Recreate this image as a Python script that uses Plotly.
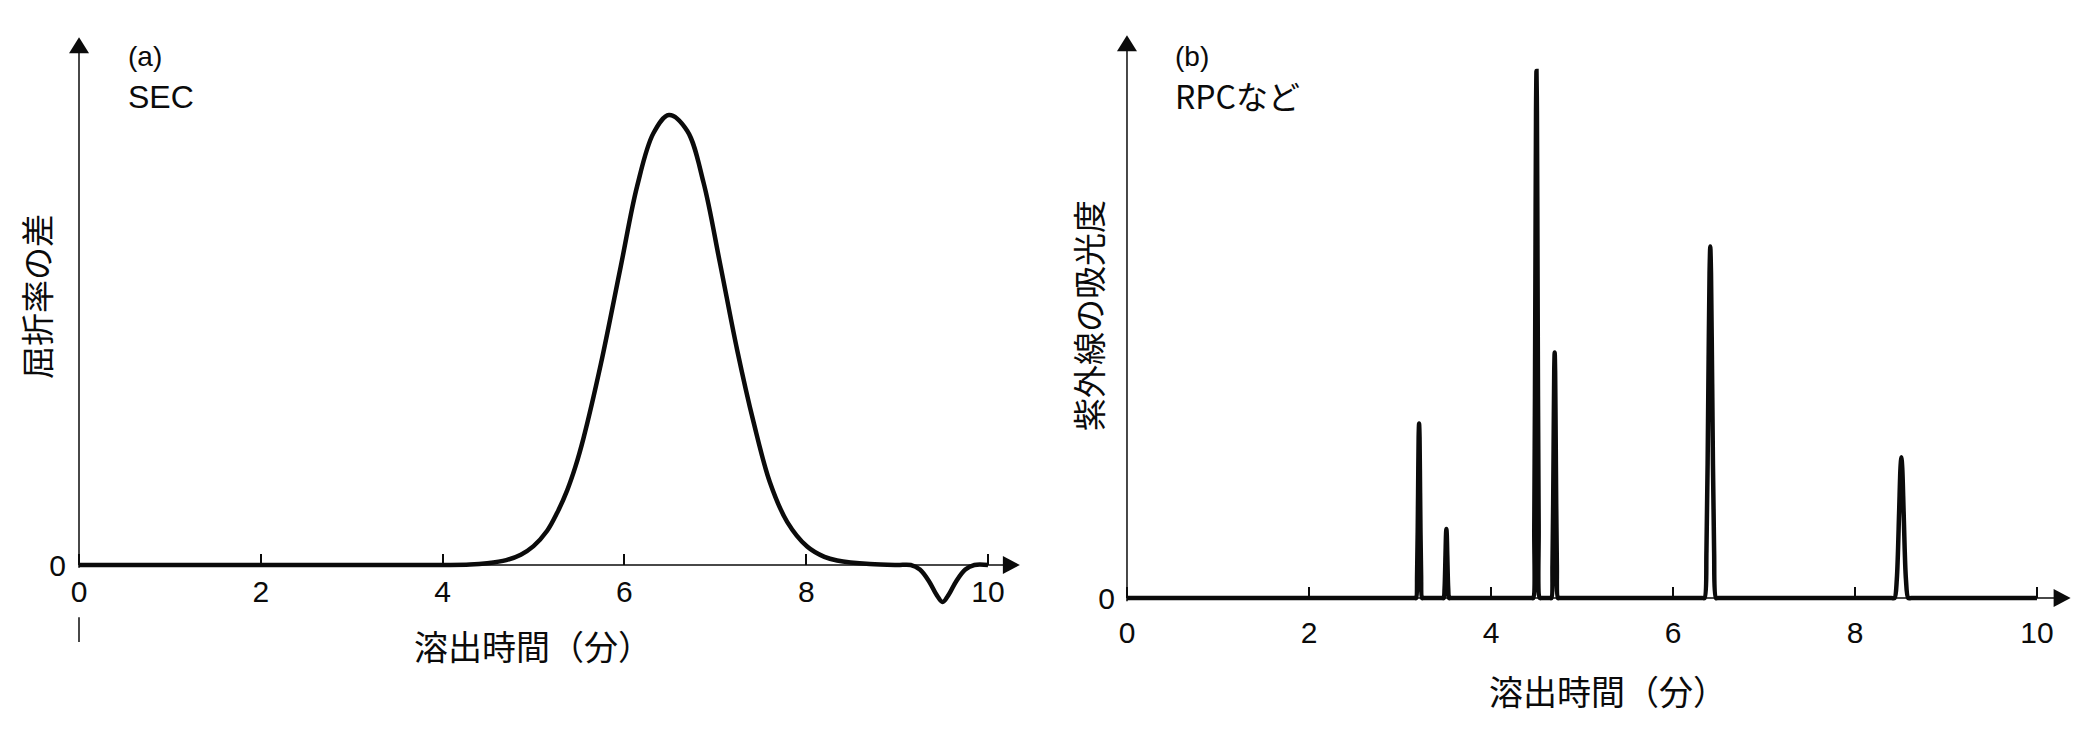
import plotly.graph_objects as go

# (a) SEC: refractive-index difference vs elution time (peak height = 100)
sec_time = [0.0, 4.0, 4.3, 4.49, 4.7, 4.86, 5.0, 5.15, 5.26, 5.37, 5.46, 5.55, 5.74, 5.96, 6.14, 6.32, 6.49,
            6.69, 6.87, 7.05, 7.24, 7.42, 7.60, 7.79, 8.01, 8.2, 8.34, 8.7, 9.0,
            9.15, 9.25, 9.35, 9.43, 9.50, 9.57, 9.65, 9.75, 9.85, 10.0]
sec_signal = [0, 0, 0.1, 0.4, 1.1, 2.3, 4.2, 7.6, 11.6, 16.6, 21.8, 28.2, 44.6, 66.4, 84.2, 96.0, 100,
              96.5, 85.0, 67.2, 47.8, 31.8, 18.4, 9.6, 4.1, 1.8, 1.0, 0.2, 0,
              0, -1.0, -3.6, -6.5, -8.2, -6.5, -3.6, -1.0, 0, 0]

# (b) RPC etc.: UV absorbance vs elution time (tallest peak = 100)
rpc_time = [0.0,
            3.16, 3.177, 3.188, 3.199, 3.205, 3.21, 3.215, 3.221, 3.232, 3.243, 3.26,
            3.46, 3.48, 3.49, 3.50, 3.506, 3.51, 3.514, 3.52, 3.53, 3.54, 3.56,
            4.445, 4.464, 4.476, 4.488, 4.495, 4.50, 4.505, 4.512, 4.524, 4.536, 4.555,
            4.645, 4.664, 4.676, 4.688, 4.695, 4.70, 4.705, 4.712, 4.724, 4.736, 4.755,
            6.32, 6.347, 6.368, 6.389, 6.402, 6.41, 6.418, 6.431, 6.452, 6.473, 6.50,
            8.40, 8.435, 8.46, 8.485, 8.50, 8.51, 8.52, 8.535, 8.56, 8.585, 8.62,
            10.0]
rpc_signal = [0,
              0, 0, 4.5, 20.0, 30.5, 33.1, 30.5, 20.0, 4.5, 0, 0,
              0, 0, 1.8, 8.0, 12.1, 13.1, 12.1, 8.0, 1.8, 0, 0,
              0, 0, 13.5, 60.7, 92.3, 100, 92.3, 60.7, 13.5, 0, 0,
              0, 0, 6.3, 28.3, 43.0, 46.6, 43.0, 28.3, 6.3, 0, 0,
              0, 0, 9.0, 40.5, 61.6, 66.7, 61.6, 40.5, 9.0, 0, 0,
              0, 0, 3.6, 16.2, 24.6, 26.7, 24.6, 16.2, 3.6, 0, 0,
              0]

time_ticks = [0, 2, 4, 6, 8, 10]
x_title = "溶出時間（分）"
a_label, a_method, a_ytitle = "(a)", "SEC", "屈折率の差"
b_label, b_method, b_ytitle = "(b)", "RPCなど", "紫外線の吸光度"

W, H = 2079, 740
LAT = "Liberation Sans, Arial, Noto Sans CJK JP, sans-serif"
JP = "Noto Sans CJK JP, Liberation Sans, sans-serif"
INK = "#0b0b0b"

fig = go.Figure()
fig.add_trace(go.Scatter(x=sec_time, y=sec_signal, xaxis="x", yaxis="y", mode="lines",
                         line=dict(color=INK, width=4.5, shape="spline", smoothing=1.0),
                         hoverinfo="skip"))
fig.add_trace(go.Scatter(x=rpc_time, y=rpc_signal, xaxis="x2", yaxis="y2", mode="lines",
                         line=dict(color=INK, width=4.5, shape="spline", smoothing=0.8),
                         hoverinfo="skip"))

xcommon = dict(tickvals=time_ticks, ticks="inside", ticklen=11, tickwidth=1.5, tickcolor=INK,
               showline=False, showgrid=False, zeroline=False, anchor="free",
               tickfont=dict(family=LAT, size=30, color=INK), fixedrange=True)
ycommon = dict(tickvals=[0], ticks="", showline=False, showgrid=False, zeroline=False,
               anchor="free", tickfont=dict(family=LAT, size=30, color=INK), fixedrange=True)

fig.update_layout(
    width=W, height=H, margin=dict(l=0, r=0, t=0, b=0),
    paper_bgcolor="white", plot_bgcolor="white", showlegend=False,
    xaxis=dict(domain=[0, 0.5], range=[-0.869, 10.566], position=(H - 565) / H,
               ticklabelstandoff=6, **xcommon),
    yaxis=dict(domain=[0, 1], range=[-38.89, 125.56], position=79 / W,
               ticklabelstandoff=13, **ycommon),
    xaxis2=dict(domain=[0.5, 1], range=[-0.9615, 10.462], position=(H - 598) / H,
                ticklabelstandoff=14, **xcommon),
    yaxis2=dict(domain=[0, 1], range=[-26.94, 113.47], position=1127 / W,
                ticklabelstandoff=12, **ycommon),
)

shapes = []
def axis_arrows(xr, yr, x_tip, y_tip, extra=None):
    ln = dict(color=INK, width=1.5)
    shapes.append(dict(type="line", xref=xr, yref=yr, x0=0, x1=x_tip - 0.1, y0=0, y1=0, line=ln))
    shapes.append(dict(type="line", xref=xr, yref=yr, x0=0, x1=0, y0=-0.6, y1=y_tip - 2, line=ln))
    shapes.append(dict(type="path", xref=xr, yref=yr, xsizemode="pixel", ysizemode="pixel",
                       xanchor=x_tip, yanchor=0, path="M0,0 L-17,9 L-17,-9 Z",
                       fillcolor=INK, line=dict(width=0)))
    shapes.append(dict(type="path", xref=xr, yref=yr, xsizemode="pixel", ysizemode="pixel",
                       xanchor=0, yanchor=y_tip, path="M0,0 L-10,-16 L10,-16 Z",
                       fillcolor=INK, line=dict(width=0)))
    if extra:
        shapes.append(dict(type="line", xref=xr, yref=yr, x0=0, x1=0, y0=extra[0], y1=extra[1], line=ln))

axis_arrows("x", "y", 10.35, 117.3, extra=(-11.6, -17.1))
axis_arrows("x2", "y2", 10.37, 106.8)
fig.update_layout(shapes=shapes)

def note(text, x, y, size, family, xanchor="left", angle=0):
    fig.add_annotation(text=text, x=x / W, y=1 - y / H, xref="paper", yref="paper",
                       xanchor=xanchor, yanchor="middle", showarrow=False, textangle=angle,
                       font=dict(family=family, size=size, color=INK))

note(a_label, 126, 56, 28, LAT)
note(a_method, 126, 97, 32, LAT)
note(a_ytitle, 36, 297, 33, JP, xanchor="center", angle=-90)
note(x_title, 533, 645, 34, JP, xanchor="center")
note(b_label, 1173, 56, 28, LAT)
note(b_method, 1173, 95, 32, JP)
note(b_ytitle, 1088, 316, 33, JP, xanchor="center", angle=-90)
note(x_title, 1608, 690, 34, JP, xanchor="center")

# the page body has a default margin; zero it so the figure fills the window exactly
fig.write_html("out.html", config={"displayModeBar": False},
               post_script="document.body.style.margin='0';")
